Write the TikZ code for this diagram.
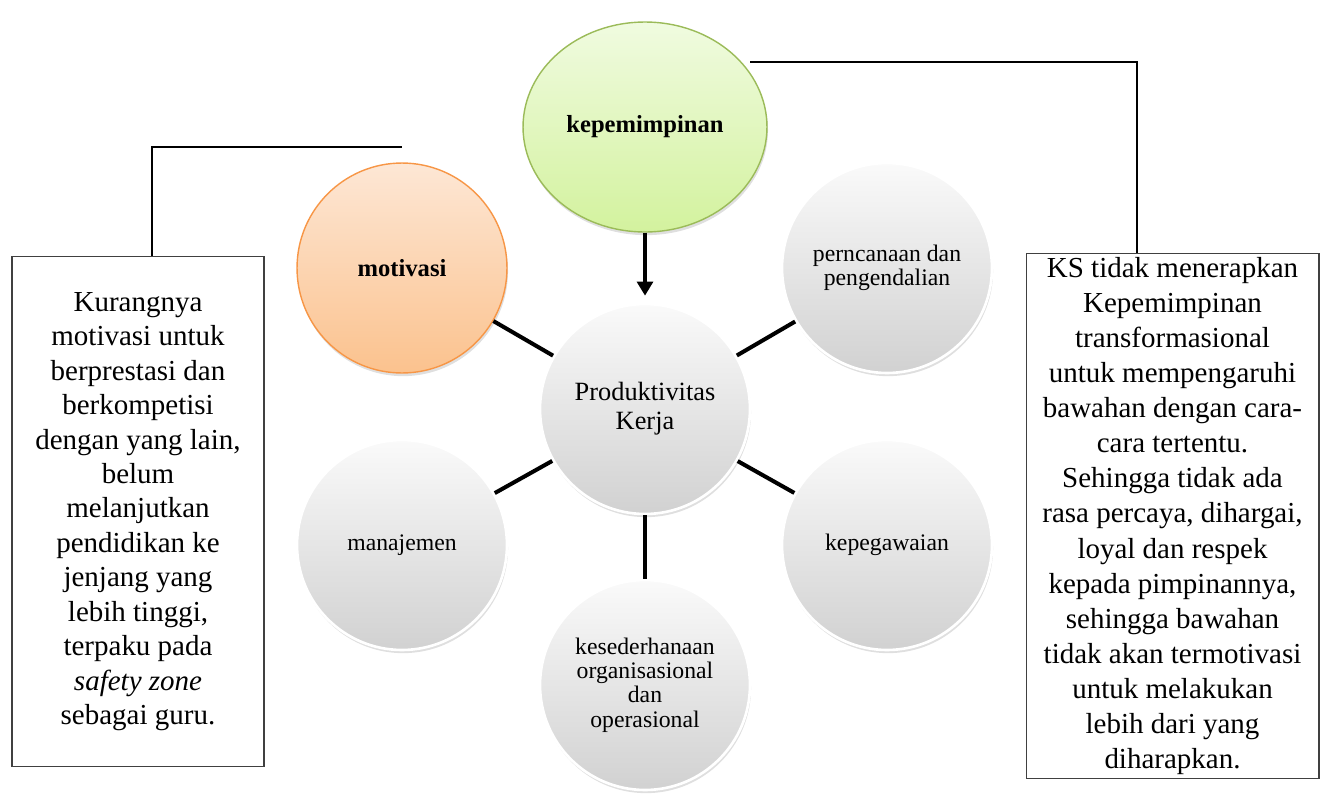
\documentclass[tikz,border=0pt]{standalone}
\usepackage{fontspec}
\setmainfont{Liberation Serif}
\usepackage{tikz}
\usetikzlibrary{arrows.meta}
\usetikzlibrary{shapes.geometric,shadows}

\definecolor{leadtop}{HTML}{F0FBE0}
\definecolor{leadbot}{HTML}{D3F29E}
\definecolor{leadline}{HTML}{9BBB59}
\definecolor{motivtop}{HTML}{FDE7D5}
\definecolor{motivbot}{HTML}{FBC28E}
\definecolor{motivline}{HTML}{F79646}

\begin{document}
\begin{tikzpicture}[x=0.02cm, y=-0.02cm,
	bubble/.style={circle, minimum size=4.2cm, inner sep=0pt, align=center, draw=white, line width=1.5pt,
		top color=gray!4, bottom color=gray!36,
		drop shadow={opacity=0.25, shadow xshift=0.6pt, shadow yshift=-1.8pt},
		font=\fontsize{13.5}{13.8}\selectfont},
	motivball/.style={bubble, draw=motivline, line width=0.8pt, top color=motivtop, bottom color=motivbot,
		font=\fontsize{14}{15}\selectfont\bfseries},
	leadball/.style={bubble, ellipse, minimum width=4.88cm, minimum height=4.2cm, draw=leadline, line width=0.8pt,
		top color=leadtop, bottom color=leadbot, font=\fontsize{14}{15}\selectfont\bfseries},
	spoke/.style={line width=2.3pt, black},
	link/.style={line width=1.1pt, black},
	notebox/.style={draw=black!75, line width=0.6pt, align=center, inner sep=0pt, fill=white}]
	\useasboundingbox (0,0) rectangle (1321,795);

	\node[bubble, font=\fontsize{15}{16.5}\selectfont] (prod) at (645,409) {Produktivitas\\Kerja};
	\node[bubble] (renc) at (887,268) {perncanaan dan\\pengendalian};
	\node[bubble] (pegawai) at (887,545) {kepegawaian};
	\node[bubble] (sederhana) at (645,685) {kesederhanaan\\organisasional\\dan\\operasional};
	\node[bubble] (manaj) at (402,545) {manajemen};
	\node[motivball] (motiv) at (402,268) {motivasi};
	\node[leadball] (pimpin) at (645,127) {kepemimpinan};

	\path[spoke]
	(prod) edge (motiv)
	edge (renc)
	edge (manaj)
	edge (pegawai)
	edge (sederhana)
	;
	\draw[spoke, -{Triangle[width=9pt,length=8pt]}, shorten >=4pt] (pimpin) -- (prod);

	\node[notebox, minimum width=5.04cm, minimum height=10.22cm, font=\fontsize{16.5}{19.6}\selectfont] (kiri) at (138,511.5)
	{Kurangnya\\motivasi untuk\\berprestasi dan\\berkompetisi\\dengan yang lain,\\belum\\melanjutkan\\pendidikan ke\\jenjang yang\\lebih tinggi,\\terpaku pada\\\textit{safety zone}\\sebagai guru.};
	\node[notebox, minimum width=5.86cm, minimum height=10.52cm, font=\fontsize{16.5}{20}\selectfont] (kanan) at (1172.5,516)
	{KS tidak menerapkan\\Kepemimpinan\\transformasional\\untuk mempengaruhi\\bawahan dengan cara-\\cara tertentu.\\Sehingga tidak ada\\rasa percaya, dihargai,\\loyal dan respek\\kepada pimpinannya,\\sehingga bawahan\\tidak akan termotivasi\\untuk melakukan\\lebih dari yang\\diharapkan.};

	\coordinate (kirisudut) at (152,147);
	\coordinate (kiriujung) at (402,147);
	\coordinate (kanansudut) at (1137,62);
	\coordinate (kananujung) at (750,62);
	\draw[link] (kiri.north -| kirisudut) -- (kirisudut) -- (kiriujung);
	\draw[link] (kananujung) -- (kanansudut) -- (kanan.north -| kanansudut);
\end{tikzpicture}
\end{document}
